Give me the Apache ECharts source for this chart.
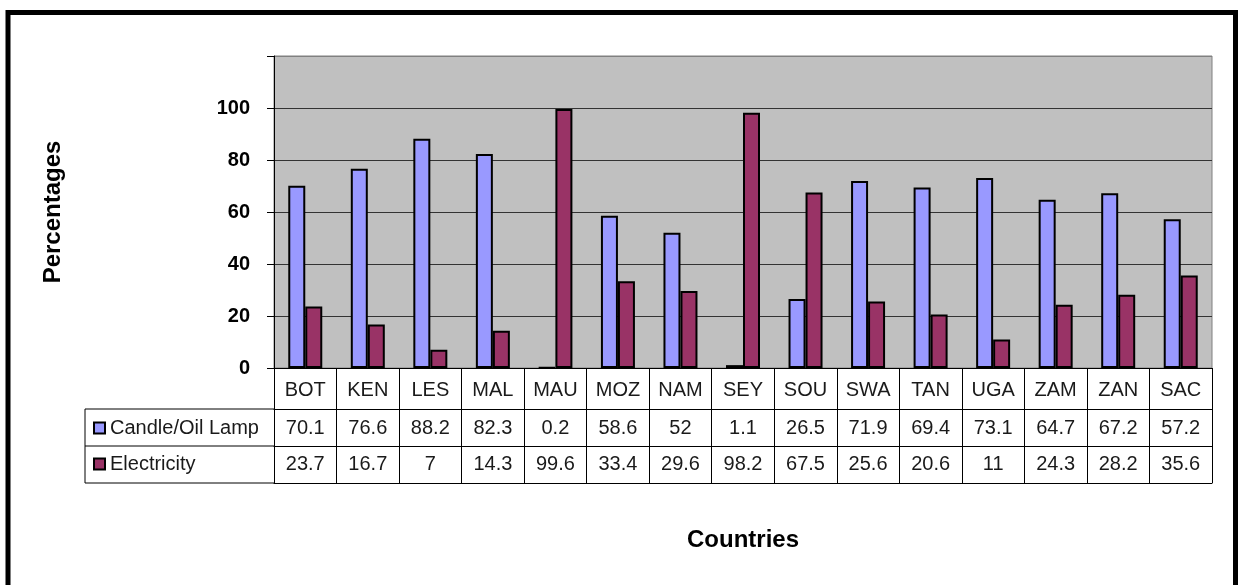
<!DOCTYPE html>
<html>
<head>
<meta charset="utf-8">
<script src="https://cdn.jsdelivr.net/npm/echarts@6/dist/echarts.min.js"></script>
<style>
html,body{margin:0;padding:0;background:#fff;}
#chart{width:1238px;height:585px;}
</style>
</head>
<body>
<div id="chart"></div>
<script>
const categories = ['BOT','KEN','LES','MAL','MAU','MOZ','NAM','SEY','SOU','SWA','TAN','UGA','ZAM','ZAN','SAC'];
const candleOilLamp = [70.1,76.6,88.2,82.3,0.2,58.6,52,1.1,26.5,71.9,69.4,73.1,64.7,67.2,57.2];
const electricity = [23.7,16.7,7,14.3,99.6,33.4,29.6,98.2,67.5,25.6,20.6,11,24.3,28.2,35.6];
const seriesNames = ['Candle/Oil Lamp','Electricity'];
const yTicks = [0,20,40,60,80,100];

const FONT = "'Liberation Sans', Arial, sans-serif";
const G = {left:274, top:56, right:1212, bottom:368};
const rowBottoms = [409, 446, 483];
const tableLeft = 85;
const TEXT = '#1a1a1a';

const chart = echarts.init(document.getElementById('chart'), null, {renderer:'canvas'});

function tableAxis(data, offset, tickLen, margin, extra){
  return Object.assign({
    type:'category', gridIndex:0, position:'bottom', offset:offset, data:data,
    boundaryGap:true,
    axisLine:{show:true, lineStyle:{color:'#000', width:1}},
    axisTick:{show:tickLen>0, length:tickLen, lineStyle:{color:'#000', width:1}},
    axisLabel:{show:true, interval:0, margin:margin, fontFamily:FONT, fontSize:20, lineHeight:20, color:TEXT},
    splitLine:{show:false}
  }, extra||{});
}

const option = {
  animation:false,
  backgroundColor:'#fff',
  grid:{left:G.left, top:G.top, width:G.right-G.left, height:G.bottom-G.top, show:true,
        backgroundColor:'#C0C0C0', borderColor:'#808080', borderWidth:1},
  legend:{
    orient:'vertical', left:93, top:418, padding:0, itemGap:16,
    itemWidth:11, itemHeight:11, icon:'rect',
    textStyle:{fontFamily:FONT, fontSize:20, lineHeight:20, color:TEXT},
    data:seriesNames
  },
  xAxis:[
    tableAxis(categories, 0, rowBottoms[0]-G.bottom, 12),
    tableAxis(candleOilLamp.map(String), rowBottoms[0]-G.bottom, rowBottoms[1]-rowBottoms[0], 9),
    tableAxis(electricity.map(String), rowBottoms[1]-G.bottom, rowBottoms[2]-rowBottoms[1], 8),
    tableAxis(categories, rowBottoms[2]-G.bottom, 0, 0, {
      axisLabel:{show:false},
      name:'Countries', nameLocation:'middle', nameGap:45,
      nameTextStyle:{fontFamily:FONT, fontSize:24, fontWeight:'bold', color:'#000'}
    })
  ],
  yAxis:{
    type:'value', min:0, max:120, interval:20,
    name:'Percentages', nameLocation:'middle', nameGap:209, nameRotate:90,
    nameTextStyle:{fontFamily:FONT, fontSize:24, fontWeight:'bold', color:'#000'},
    axisLine:{show:true, lineStyle:{color:'#000', width:1}},
    axisTick:{show:true, length:7, lineStyle:{color:'#000', width:1}},
    axisLabel:{margin:24, fontFamily:FONT, fontSize:20, fontWeight:'bold', color:'#000',
      formatter:function(v){ return yTicks.indexOf(v) >= 0 ? String(v) : ''; }},
    splitLine:{show:true, lineStyle:{color:['#000','#333','#333','#333','#333','#333','#808080'], width:1}}
  },
  series:[
    {name:seriesNames[0], type:'bar', xAxisIndex:0, data:candleOilLamp, barWidth:17, barGap:'0%',
     itemStyle:{color:'#9999FF', borderColor:'#000', borderWidth:2}},
    {name:seriesNames[1], type:'bar', xAxisIndex:0, data:electricity, barWidth:17, barGap:'0%',
     itemStyle:{color:'#993366', borderColor:'#000', borderWidth:2}}
  ],
  graphic:[
    {type:'rect', shape:{x:8, y:12.5, width:1227.5, height:640}, style:{fill:null, stroke:'#000', lineWidth:5}, silent:true},
    {type:'line', shape:{x1:tableLeft, y1:rowBottoms[0], x2:G.left, y2:rowBottoms[0]}, style:{stroke:'#000', lineWidth:1}},
    {type:'line', shape:{x1:tableLeft, y1:rowBottoms[1], x2:G.left, y2:rowBottoms[1]}, style:{stroke:'#000', lineWidth:1}},
    {type:'line', shape:{x1:tableLeft, y1:rowBottoms[2], x2:G.left, y2:rowBottoms[2]}, style:{stroke:'#000', lineWidth:1}},
    {type:'line', shape:{x1:tableLeft, y1:rowBottoms[0], x2:tableLeft, y2:rowBottoms[2]}, style:{stroke:'#000', lineWidth:1}}
  ]
};
chart.setOption(option);
</script>
</body>
</html>
